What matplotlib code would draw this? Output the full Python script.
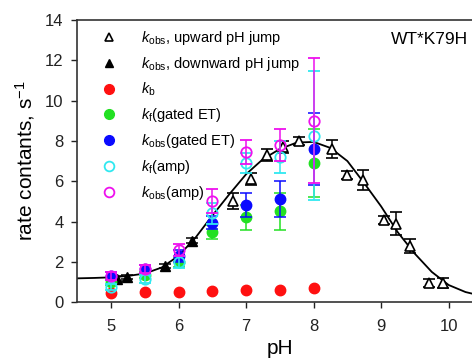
import numpy as np
import matplotlib
matplotlib.use("Agg")
import matplotlib.pyplot as plt
from matplotlib.lines import Line2D

plt.rcParams['font.family'] = ['Liberation Sans', 'DejaVu Sans']
plt.rcParams['mathtext.fontset'] = 'custom'
plt.rcParams['mathtext.rm'] = 'Liberation Sans'
plt.rcParams['mathtext.it'] = 'Liberation Sans:italic'

# fitted curve
fit_ph = [4.5, 4.75, 5.0, 5.25, 5.5, 5.75, 6.0, 6.25, 6.5, 6.75, 7.0, 7.25, 7.5,
          7.75, 8.0, 8.25, 8.5, 8.75, 9.0, 9.25, 9.5, 9.75, 10.0, 10.25, 10.5]
fit_k = [1.18, 1.2, 1.23, 1.3, 1.42, 1.72, 2.3, 3.2, 4.3, 5.35, 6.35, 7.1, 7.6,
         7.92, 7.95, 7.65, 7.0, 5.9, 4.75, 3.45, 2.4, 1.5, 0.85, 0.5, 0.3]

# k_obs, upward pH jump (open triangles)
up_ph = [6.81, 7.07, 7.31, 7.55, 7.78, 8.27, 8.49, 8.73, 9.04, 9.22, 9.43, 9.71, 9.92]
up_k = [5.0, 6.1, 7.3, 7.7, 8.0, 7.6, 6.3, 6.05, 4.07, 3.9, 2.8, 0.94, 0.95]
up_err = [0.4, 0.3, 0.3, 0.3, 0.2, 0.45, 0.2, 0.5, 0.2, 0.57, 0.35, 0.2, 0.25]

# k_obs, downward pH jump (filled triangles)
down_ph = [5.08, 5.23, 5.8, 6.2]
down_k = [1.17, 1.27, 1.8, 3.05]
down_err = [0.12, 0.1, 0.1, 0.12]

# series measured at fixed pH values
ph = [5.0, 5.5, 6.0, 6.5, 7.0, 7.5, 8.0]
kb = [0.45, 0.5, 0.5, 0.55, 0.62, 0.62, 0.72]
kf_gated = [1.0, 1.35, 2.0, 3.5, 4.2, 4.5, 6.9]
kf_gated_err = [0.15, 0.15, 0.25, 0.35, 0.6, 0.9, 1.7]
kobs_gated = [1.3, 1.65, 2.3, 3.95, 4.8, 5.1, 7.6]
kobs_gated_err = [0.2, 0.2, 0.3, 0.3, 0.6, 0.9, 1.8]
kf_amp = [0.75, 1.15, 2.0, 4.4, 6.9, 7.2, 8.25]
kf_amp_err = [0.15, 0.2, 0.3, 0.5, 0.5, 0.8, 3.2]
kobs_amp = [1.3, 1.65, 2.6, 5.0, 7.45, 7.8, 9.0]
kobs_amp_err = [0.2, 0.2, 0.3, 0.6, 0.6, 0.8, 3.1]

red = '#ff1010'
green = '#22e022'
blue = '#0a0aff'
cyan = '#30e8f0'
magenta = '#ee10ee'

fig = plt.figure(figsize=(4.72, 3.64), dpi=100)
ax = fig.add_axes([0.164, 0.170, 0.858, 0.775])

ax.plot(fit_ph, fit_k, color='black', lw=1.3, zorder=2)

ax.errorbar(up_ph, up_k, yerr=up_err, fmt='^', ms=7, mfc='white', mec='black',
            mew=1.2, ecolor='black', elinewidth=1.1, capsize=4, capthick=1.1, zorder=3)
ax.errorbar(down_ph, down_k, yerr=down_err, fmt='^', ms=7, mfc='black', mec='black',
            ecolor='black', elinewidth=1.1, capsize=4, capthick=1.1, zorder=3)

ax.plot(ph, kb, 'o', ms=7.5, color=red, mec=red, zorder=4)
ax.errorbar(ph, kf_gated, yerr=kf_gated_err, fmt='o', ms=7.5, color=green,
            elinewidth=1.1, capsize=4, capthick=1.1, zorder=4)
ax.errorbar(ph, kobs_gated, yerr=kobs_gated_err, fmt='o', ms=7.5, color=blue,
            elinewidth=1.1, capsize=4, capthick=1.1, zorder=5)
ax.errorbar(ph, kf_amp, yerr=kf_amp_err, fmt='o', ms=7.5, color=cyan, mfc='none',
            mew=1.3, elinewidth=1.1, capsize=4, capthick=1.1, zorder=6)
ax.errorbar(ph, kobs_amp, yerr=kobs_amp_err, fmt='o', ms=7.5, color=magenta, mfc='none',
            mew=1.3, elinewidth=1.1, capsize=4, capthick=1.1, zorder=7)

ax.set_xlim(4.5, 10.5)
ax.set_ylim(0, 14)
ax.set_xticks([5, 6, 7, 8, 9, 10])
ax.set_yticks([0, 2, 4, 6, 8, 10, 12, 14])
ax.tick_params(direction='out', labelsize=12, length=4, width=1, colors='#222222')
ax.tick_params(axis='y', pad=6)
ax.tick_params(axis='x', pad=8)
for s in ax.spines.values():
    s.set_linewidth(1.2)
    s.set_color('#333333')

ax.set_xlabel('pH', fontsize=15, labelpad=4)
ax.set_ylabel('rate contants, s$^{-1}$', fontsize=15, labelpad=6)

ax.text(0.965, 0.93, 'WT*K79H', transform=ax.transAxes, ha='right', va='center', fontsize=12.5)

handles = [
    Line2D([], [], ls='none', marker='^', ms=6, mfc='white', mec='black', mew=1.2),
    Line2D([], [], ls='none', marker='^', ms=6, mfc='black', mec='black'),
    Line2D([], [], ls='none', marker='o', ms=7, mfc=red, mec=red),
    Line2D([], [], ls='none', marker='o', ms=7, mfc=green, mec=green),
    Line2D([], [], ls='none', marker='o', ms=7, mfc=blue, mec=blue),
    Line2D([], [], ls='none', marker='o', ms=7, mfc='none', mec=cyan, mew=1.3),
    Line2D([], [], ls='none', marker='o', ms=7, mfc='none', mec=magenta, mew=1.3),
]
labels = [
    r'$k_{\rm obs}$, upward pH jump',
    r'$k_{\rm obs}$, downward pH jump',
    r'$k_{\rm b}$',
    r'$k_{\rm f}$(gated ET)',
    r'$k_{\rm obs}$(gated ET)',
    r'$k_{\rm f}$(amp)',
    r'$k_{\rm obs}$(amp)',
]
ax.legend(handles, labels, loc='upper left', bbox_to_anchor=(0.02, 1.0), frameon=False,
          fontsize=10.5, handletextpad=1.2, labelspacing=0.55, borderaxespad=0.2)

fig.savefig('out.png', dpi=100)
